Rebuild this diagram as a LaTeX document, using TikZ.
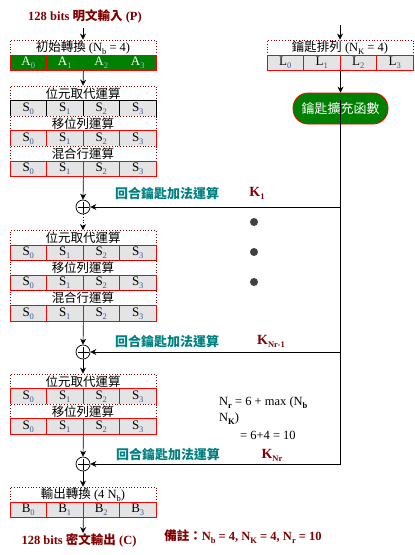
\documentclass[tikz,border=0pt]{standalone}
\usepackage{fontspec}
\setmainfont{Liberation Serif}
\newfontfamily\cjk{Noto Sans CJK TC}
\usetikzlibrary{arrows.meta}
\definecolor{dred}{HTML}{800000}
\definecolor{tealc}{HTML}{008080}
\definecolor{gfill}{HTML}{008000}
\definecolor{cgray}{HTML}{E4E4E4}
\definecolor{subc}{HTML}{3A5A9A}
\definecolor{subg}{HTML}{9CB8FF}
\definecolor{dotc}{HTML}{404040}
\newcommand\lowsub[1]{\raisebox{-3pt}{\fontsize{8.5}{8.5}\selectfont #1}}
\newcommand\cellrow[6]{% name, x0, y, letter, style, subcolour
  \foreach \i in {0,...,3}{\node[#5] (#1\i) at ({#2+36.5*\i},#3) {#4\lowsub{\textcolor{#6}{\i}}};}}
\begin{document}
\begin{tikzpicture}[x=1pt,y=-1pt,
  hdr/.style={draw=dred, dotted, line width=0.8pt, fill=white, minimum width=146pt, minimum height=15pt, inner sep=0pt, font=\fontsize{12.5}{13}\selectfont},
  cellR/.style={draw=red, line width=0.8pt, fill=cgray, minimum width=36.5pt, minimum height=15.5pt, inner sep=0pt, font=\fontsize{13}{13}\selectfont},
  cellK/.style={cellR, draw=black},
  cellG/.style={cellR, fill=gfill, text=white},
  arr/.style={-{Stealth[length=6pt,width=6pt]}, line width=0.7pt},
  circ/.style={draw, circle, fill=white, minimum size=14pt, inner sep=0pt, line width=0.7pt},
  ttl/.style={text=dred, font=\fontsize{12.5}{12.5}\selectfont\bfseries, inner sep=0pt},
  lbl/.style={text=tealc, font=\fontsize{13}{13}\selectfont\bfseries\cjk, inner sep=0pt},
  klbl/.style={text=dred, font=\fontsize{14}{14}\selectfont\bfseries, inner sep=0pt},
  frm/.style={anchor=west, font=\fontsize{12.5}{12.5}\selectfont, inner sep=0pt},
  dotn/.style={circle, fill=dotc, minimum size=8pt, inner sep=0pt}
]
\useasboundingbox (0,0) rectangle (415,555);
% titles
\node[ttl] (t1) at (85,16) {128 bits {\cjk 明文輸入} (P)};
\node[ttl] (t2) at (79,540) {128 bits {\cjk 密文輸出} (C)};
% block A
\node[hdr] (hA) at (83,47.5) {{\cjk 初始轉換} (N\lowsub{b} = 4)};
\cellrow{rA}{28.25}{63}{A}{cellG}{subg}
% block B
\node[hdr] (hB1) at (83,93.5) {\cjk 位元取代運算};
\cellrow{rBa}{28.25}{108.5}{S}{cellK}{subc}
\node[hdr] (hB2) at (83,123.5) {\cjk 移位列運算};
\cellrow{rBb}{28.25}{138.5}{S}{cellR}{subc}
\node[hdr] (hB3) at (83,153.5) {\cjk 混合行運算};
\cellrow{rBc}{28.25}{169}{S}{cellR}{subc}
% block C
\node[hdr] (hC1) at (83,238) {\cjk 位元取代運算};
\cellrow{rCa}{28.25}{253}{S}{cellR}{subc}
\node[hdr] (hC2) at (83,268) {\cjk 移位列運算};
\cellrow{rCb}{28.25}{283}{S}{cellR}{subc}
\node[hdr] (hC3) at (83,298) {\cjk 混合行運算};
\cellrow{rCc}{28.25}{313.5}{S}{cellR}{subc}
% block D
\node[hdr] (hD1) at (83,381.5) {\cjk 位元取代運算};
\cellrow{rDa}{28.25}{396.5}{S}{cellR}{subc}
\node[hdr] (hD2) at (83,411.5) {\cjk 移位列運算};
\cellrow{rDb}{28.25}{426.5}{S}{cellR}{subc}
% block E
\node[hdr] (hE) at (83,494.5) {{\cjk 輸出轉換} (4 N\lowsub{b})};
\cellrow{rE}{28.25}{510}{B}{cellR}{subc}
% key side
\node[hdr] (hK) at (340,47.5) {{\cjk 鑰匙排列} (N\lowsub{K} = 4)};
\cellrow{rK}{285.25}{63}{L}{cellR}{subc}
\node[draw=red, line width=0.8pt, fill=gfill, rounded corners=15pt, minimum width=95pt, minimum height=31pt, inner sep=0pt, text=white, font=\fontsize{13}{13}\selectfont\cjk] (kx) at (340.5,108.5) {鑰匙擴充函數};
% xor circles
\foreach \n/\yy in {o1/207, o2/352, o3/464}{
  \node[circ] (\n) at (83,\yy) {};
  \draw[line width=0.7pt] ([xshift=-5.5pt]\n.center) -- ([xshift=5.5pt]\n.center)
        ([yshift=-5.5pt]\n.center) -- ([yshift=5.5pt]\n.center);
}
% coordinates
\coordinate (tIn) at (83,28);
\coordinate (kTop) at (340,25);
\coordinate (kIn) at (340,100);
\coordinate (j1) at (340,207);
\coordinate (j2) at (340,352);
\coordinate (outEnd) at (83,533);
% connectors left
\draw[arr] (tIn) -- (hA.north);
\draw[arr] (rA1.south east) -- (hB1.north);
\draw[arr] (rBc1.south east) -- (o1.north);
\draw[arr, dotted] (o1.south) -- (hC1.north);
\draw[arr] (rCc1.south east) -- (o2.north);
\draw[arr] (o2.south) -- (hD1.north);
\draw[arr] (rDb1.south east) -- (o3.north);
\draw[arr] (o3.south) -- (hE.north);
\draw[arr] (rE1.south east) -- (outEnd);
% connectors right
\draw[arr] (kTop) -- (hK.north);
\draw[arr] (rK1.south east) -- (kx.north);
\draw[arr] (kIn) |- (o3.east);
\draw[arr] (j1) -- (o1.east);
\draw[arr] (j2) -- (o2.east);
% labels
\node[lbl] (l1) at (167,194) {回合鑰匙加法運算};
\node[lbl] (l2) at (167,342) {回合鑰匙加法運算};
\node[lbl] (l3) at (168,455) {回合鑰匙加法運算};
\node[klbl] (k1) at (257,193) {K\lowsub{1}};
\node[klbl] (k2) at (271,341) {K\lowsub{Nr-1}};
\node[klbl] (k3) at (272,455) {K\lowsub{Nr}};
% dots
\node[dotn] (d1) at (254,222) {};
\node[dotn] (d2) at (254,252) {};
\node[dotn] (d3) at (254,282) {};
% formula
\node[frm] (f1) at (219,403) {N\lowsub{\bfseries r} = 6 + max (N\lowsub{\bfseries b}};
\node[frm] (f2) at (219,419) {N\lowsub{\bfseries K})};
\node[frm] (f3) at (240,435) {= 6+4 = 10};
% note
\node[ttl] (nt) at (243,537) {{\cjk 備註：}N\lowsub{b} = 4, N\lowsub{K} = 4, N\lowsub{r} = 10};
\end{tikzpicture}
\end{document}
